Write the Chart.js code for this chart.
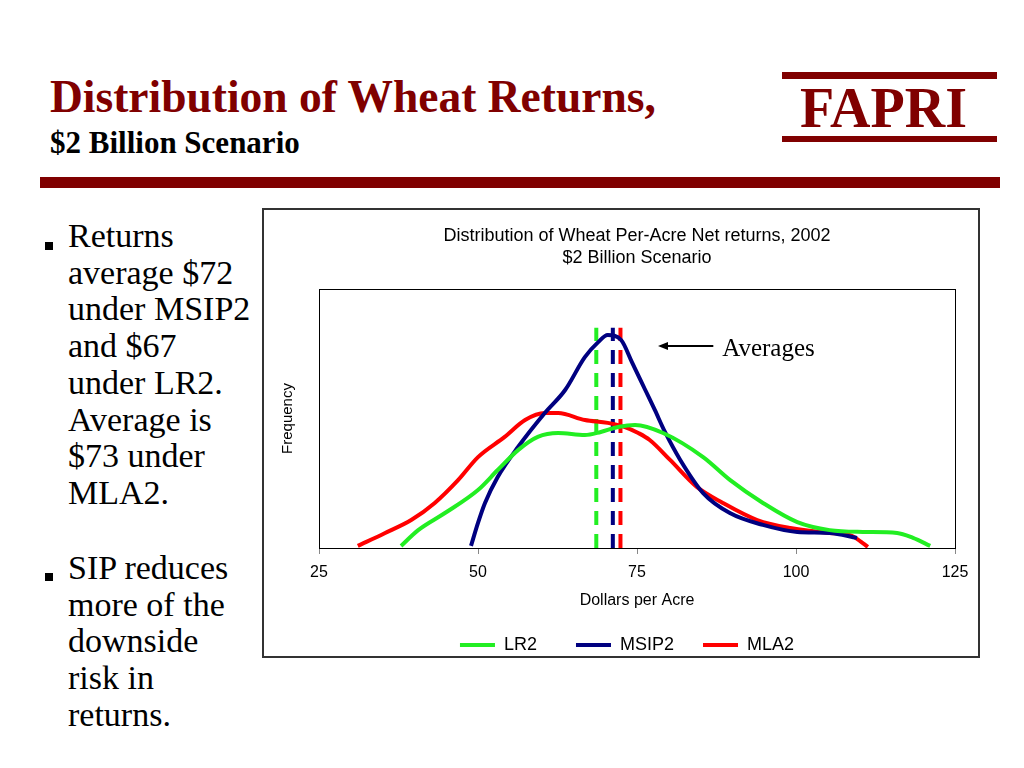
<!DOCTYPE html>
<html>
<head>
<meta charset="utf-8">
<script src="https://cdn.jsdelivr.net/npm/chart.js@4/dist/chart.umd.min.js"></script>
<style>
  html, body { margin: 0; padding: 0; background: #fff; }
  body { width: 1024px; height: 768px; position: relative; overflow: hidden; font-family: "Times New Roman", "Liberation Serif", serif; }
  .abs { position: absolute; white-space: nowrap; }
  #title { left: 50px; top: 74px; font-size: 45.5px; line-height: 45px; font-weight: bold; color: #800000; }
  #subtitle { left: 50px; top: 127px; font-size: 31px; line-height: 31px; font-weight: bold; color: #000; }
  #logo { left: 800px; top: 80px; font-size: 56px; line-height: 56px; font-weight: bold; color: #800000; }
  .bar { position: absolute; background: #800000; }
  .bullets { font-size: 34px; line-height: 36.7px; color: #000; }
  .sq { position: absolute; width: 8px; height: 8px; background: #000; }
  #box { position: absolute; left: 262px; top: 208px; width: 718px; height: 450px; border: 2px solid #333; box-sizing: border-box; }
  #chart { position: absolute; left: 264px; top: 210px; }
</style>
</head>
<body>
<div id="title" class="abs">Distribution of Wheat Returns,</div>
<div id="subtitle" class="abs">$2 Billion Scenario</div>
<div class="bar" style="left:782px;top:72px;width:215px;height:7px;"></div>
<div id="logo" class="abs">FAPRI</div>
<div class="bar" style="left:782px;top:136px;width:215px;height:6px;"></div>
<div class="bar" style="left:40px;top:177px;width:960px;height:11px;"></div>

<div class="sq" style="left:45px;top:242px;"></div>
<div class="abs bullets" style="left:68px;top:218px;">Returns<br>average $72<br>under MSIP2<br>and $67<br>under LR2.<br>Average is<br>$73 under<br>MLA2.</div>
<div class="sq" style="left:45px;top:573px;"></div>
<div class="abs bullets" style="left:68px;top:550px;">SIP reduces<br>more of the<br>downside<br>risk in<br>returns.</div>

<div id="box"></div>
<canvas id="chart" width="714" height="456"></canvas>

<script>
// ---- data ----
const lr2X  = [37.9, 40.6, 44.8, 50.0, 53.1, 56.3, 59.4, 62.6, 66.8, 69.3, 72.0, 74.7, 79.1, 85.4, 89.6, 94.8, 100.2, 105.3, 110.5, 115.9, 118.4, 121.1];
const lr2Y  = [0.8, 6.9, 13.5, 22.4, 30.1, 37.8, 42.9, 44.4, 43.6, 44.8, 46.7, 47.5, 44.4, 35.1, 26.3, 17.4, 10.0, 6.9, 6.2, 5.8, 3.9, 0.8];

const msipX = [48.9, 50.0, 51.1, 53.1, 56.3, 60.5, 63.7, 66.8, 68.9, 70.4, 72.5, 74.2, 76.3, 77.8, 79.4, 81.8, 85.4, 89.6, 94.8, 100.2, 105.3, 109.6];
const msipY = [0.8, 9.7, 17.4, 27.4, 39.0, 52.1, 61.0, 73.7, 79.5, 82.2, 80.3, 71.8, 61.0, 53.3, 44.8, 34.0, 21.2, 13.5, 8.9, 6.2, 5.8, 3.9];

const mlaX  = [31.1, 35.4, 39.5, 43.2, 46.9, 50.0, 54.2, 57.4, 60.5, 62.6, 66.8, 70.4, 73.1, 75.2, 77.0, 80.2, 84.4, 88.5, 93.9, 99.1, 105.3, 108.5, 110.5, 111.3];
const mlaY  = [0.8, 5.8, 10.8, 17.4, 26.3, 35.1, 42.9, 49.4, 52.1, 52.1, 49.4, 48.3, 46.7, 44.4, 41.7, 34.0, 23.6, 17.4, 10.8, 7.7, 5.8, 5.0, 1.9, 0.4];

const seriesNames = ['LR2', 'MSIP2', 'MLA2'];
const averages = [68.6, 71.2, 72.4];   // LR2, MSIP2, MLA2 average lines
const averageTop = 85;
const xTicks = [25, 50, 75, 100, 125];
const chartTitle = ['Distribution of Wheat Per-Acre Net returns, 2002', '$2 Billion Scenario'];
const xTitle = 'Dollars per Acre';
const yTitle = 'Frequency';
const annotationText = 'Averages';

// styling
const colors = ['#22EE22', '#000080', '#FF0000'];
const legendTrailingSpaces = [3, 1, 4];   // spacing between legend entries

const toPts = (xs, ys) => xs.map((x, i) => ({x: x, y: ys[i]}));
const curves = [toPts(lr2X, lr2Y), toPts(msipX, msipY), toPts(mlaX, mlaY)];

const datasets = curves.map((pts, i) => ({
  label: seriesNames[i],
  data: pts,
  borderColor: colors[i],
  backgroundColor: colors[i],
  borderWidth: 4,
  pointRadius: 0,
  fill: false,
  cubicInterpolationMode: 'monotone'
}));
averages.forEach((a, i) => datasets.push({
  label: seriesNames[i] + ' average',
  data: [{x: a, y: 0}, {x: a, y: averageTop}],
  borderColor: colors[i],
  borderWidth: 4,
  borderDash: [14, 9],
  pointRadius: 0,
  fill: false,
  isAverage: true
}));

const framePlugin = {
  id: 'frame',
  beforeDatasetsDraw(chart) {
    const {ctx, chartArea: a} = chart;
    ctx.save();
    ctx.strokeStyle = '#000';
    ctx.lineWidth = 1;
    ctx.strokeRect(a.left + 0.5, a.top + 0.5, a.right - a.left, a.bottom - a.top);
    ctx.restore();
  }
};

const arrowPlugin = {
  id: 'avgArrow',
  afterDatasetsDraw(chart) {
    const {ctx, scales: {x, y}} = chart;
    const x1 = x.getPixelForValue(78.3), x2 = x.getPixelForValue(87.0);
    const yy = y.getPixelForValue(78);
    ctx.save();
    ctx.strokeStyle = '#000';
    ctx.fillStyle = '#000';
    ctx.lineWidth = 2;
    ctx.beginPath();
    ctx.moveTo(x1 + 6, yy);
    ctx.lineTo(x2, yy);
    ctx.stroke();
    ctx.beginPath();
    ctx.moveTo(x1, yy);
    ctx.lineTo(x1 + 10, yy - 4);
    ctx.lineTo(x1 + 10, yy + 4);
    ctx.closePath();
    ctx.fill();
    ctx.font = '25px "Times New Roman", "Liberation Serif", serif';
    ctx.textBaseline = 'alphabetic';
    ctx.textAlign = 'left';
    ctx.fillText(annotationText, x.getPixelForValue(88.4), y.getPixelForValue(74.1));
    ctx.restore();
  }
};

Chart.defaults.font.family = 'Arial, "Liberation Sans", sans-serif';
Chart.defaults.color = '#000';

new Chart(document.getElementById('chart'), {
  type: 'line',
  data: { datasets: datasets },
  plugins: [framePlugin, arrowPlugin],
  options: {
    responsive: false,
    animation: false,
    devicePixelRatio: 1,
    layout: { padding: { left: 11, right: 23, top: 0, bottom: 2 } },
    plugins: {
      title: {
        display: true,
        text: chartTitle,
        fullSize: false,
        font: { size: 18, weight: 'normal', lineHeight: 22 / 18 },
        color: '#000',
        padding: { top: 15, bottom: 20 }
      },
      legend: {
        position: 'bottom',
        fullSize: false,
        labels: {
          usePointStyle: true,
          pointStyle: 'line',
          pointStyleWidth: 35,
          padding: 24,
          font: { size: 18 },
          color: '#000',
          generateLabels: (chart) => {
            const items = Chart.defaults.plugins.legend.labels.generateLabels(chart);
            items.forEach(it => {
              const k = it.datasetIndex;
              if (k < legendTrailingSpaces.length) it.text = it.text + ' '.repeat(legendTrailingSpaces[k]);
            });
            return items;
          },
          filter: (item, data) => !data.datasets[item.datasetIndex].isAverage
        }
      },
      tooltip: { enabled: false }
    },
    scales: {
      x: {
        type: 'linear',
        min: xTicks[0],
        max: xTicks[xTicks.length - 1],
        afterBuildTicks: (s) => { s.ticks = xTicks.map(v => ({value: v})); },
        ticks: { font: { size: 16 }, color: '#000', padding: 9 },
        grid: { display: true, drawOnChartArea: false, drawTicks: true, tickLength: 6, color: '#888' },
        border: { display: true, color: '#000', width: 1 },
        title: { display: true, text: xTitle, font: { size: 16 }, color: '#000', padding: { top: 0.2, bottom: 1.4 } }
      },
      y: {
        min: 0,
        max: 100,
        ticks: { display: false },
        grid: { display: false, drawTicks: false },
        border: { display: true, color: '#000', width: 1 },
        title: { display: true, text: yTitle, font: { size: 15 }, color: '#000', padding: { top: 4, bottom: 22 } }
      }
    }
  }
});
</script>
</body>
</html>
